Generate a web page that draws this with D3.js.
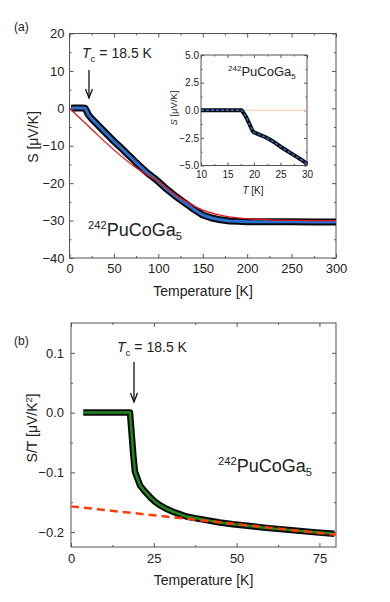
<!DOCTYPE html>
<html lang="en">
<head>
<meta charset="UTF-8">
<script src="https://d3js.org/d3.v7.min.js"></script>
<style>
  body { margin: 0; background: #fff; }
  svg text { font-family: "Liberation Sans", Arial, sans-serif; fill: #222; }
  .axis path { display: none; }
  .axis line { stroke: #555; }
</style>
<title>PuCoGa5 thermopower</title>
</head>
<body>
<div id="chart"></div>
<script>
// panel (a): S vs T
var tempA = [2, 5, 8, 11, 14, 17.5, 19, 21, 25, 30, 35, 40, 45, 50, 55, 60, 65, 70, 75, 80, 85, 90, 95, 100, 110, 120, 130, 140, 150, 160, 170, 180, 190, 200, 225, 250, 275, 300];
var seebeckA = [0, 0.1, 0.1, 0.1, 0.1, 0, -0.6, -1.6, -2.8, -4.0, -5.2, -6.4, -7.6, -8.8, -9.9, -11.0, -12.2, -13.3, -14.5, -15.6, -16.7, -17.7, -18.6, -19.6, -21.7, -23.6, -25.3, -27.0, -28.5, -29.3, -29.8, -30.1, -30.2, -30.3, -30.3, -30.3, -30.4, -30.4];
var fitTempA = [0, 25, 50, 75, 100, 125, 150, 175, 200, 225, 250, 275, 300];
var fitA = [0, -5.6, -11.1, -15.9, -19.6, -24.0, -27.2, -28.8, -29.5, -29.8, -29.95, -30.0, -30.0];
var xTicksA = [0, 50, 100, 150, 200, 250, 300];
var yTicksA = [-40, -30, -20, -10, 0, 10, 20];

// inset of (a)
var insetT = [10, 11, 12, 13, 14, 15, 16, 17, 17.7, 18.5, 19.2, 19.7, 20, 21, 22, 23, 24, 25, 26, 27, 28, 29, 30];
var insetS = [0, 0, 0, 0, 0, 0, 0, 0, 0, -0.6, -1.3, -1.85, -2.0, -2.2, -2.4, -2.65, -2.95, -3.3, -3.6, -3.9, -4.2, -4.5, -4.85];
var insetRefT = [17.7, 30];
var insetRefS = [0, 0];
var xTicksIn = [10, 15, 20, 25, 30];
var yTicksIn = [-5, -2.5, 0, 2.5, 5];

// panel (b): S/T vs T
var tempB = [3.7, 6, 8, 10, 12, 14, 16, 17.8, 18.3, 18.8, 19.3, 20.8, 22.3, 23.8, 25.3, 26.8, 28.8, 30.8, 32.8, 34.8, 37.8, 40.9, 44.9, 48.9, 53.9, 58.9, 64, 69, 74, 79.5];
var stB = [0, 0, 0, 0, 0, 0, 0, 0, -0.035, -0.07, -0.099, -0.1215, -0.132, -0.141, -0.149, -0.155, -0.161, -0.166, -0.170, -0.174, -0.177, -0.180, -0.184, -0.187, -0.190, -0.193, -0.1955, -0.198, -0.2005, -0.203];
var dashT = [0, 80];
var dashB = [-0.157, -0.2045];
var xTicksB = [0, 25, 50, 75];
var yTicksB = [-0.2, -0.1, 0, 0.1];

var svg = d3.select("#chart").append("svg")
    .attr("width", 390)
    .attr("height", 602);

// frame with inward ticks on all four sides
function drawAxes(x, y, o) {
    var g = svg.append("g");
    var xl = x.range()[0], xr = x.range()[1];
    var yb = y.range()[0], yt = y.range()[1];

    // minor ticks
    g.append("g").attr("class", "axis").attr("transform", "translate(0," + yb + ")")
        .call(d3.axisBottom(x).tickValues(o.xMinor).tickSize(-o.minor).tickFormat(""));
    g.append("g").attr("class", "axis").attr("transform", "translate(0," + yt + ")")
        .call(d3.axisTop(x).tickValues(o.xMinor).tickSize(-o.minor).tickFormat(""));
    g.append("g").attr("class", "axis").attr("transform", "translate(" + xl + ",0)")
        .call(d3.axisLeft(y).tickValues(o.yMinor).tickSize(-o.minor).tickFormat(""));
    g.append("g").attr("class", "axis").attr("transform", "translate(" + xr + ",0)")
        .call(d3.axisRight(y).tickValues(o.yMinor).tickSize(-o.minor).tickFormat(""));

    // major ticks + labels
    g.append("g").attr("class", "axis").attr("transform", "translate(0," + yb + ")")
        .call(d3.axisBottom(x).tickValues(o.xTicks).tickSize(-o.major).tickPadding(o.padX).tickFormat(o.xFmt))
        .selectAll("text").style("font-size", o.fs + "px");
    g.append("g").attr("class", "axis").attr("transform", "translate(0," + yt + ")")
        .call(d3.axisTop(x).tickValues(o.xTicks).tickSize(-o.major).tickFormat(""));
    g.append("g").attr("class", "axis").attr("transform", "translate(" + xl + ",0)")
        .call(d3.axisLeft(y).tickValues(o.yTicks).tickSize(-o.major).tickPadding(o.padY).tickFormat(o.yFmt))
        .selectAll("text").style("font-size", o.fs + "px");
    g.append("g").attr("class", "axis").attr("transform", "translate(" + xr + ",0)")
        .call(d3.axisRight(y).tickValues(o.yTicks).tickSize(-o.major).tickFormat(""));

    g.append("rect")
        .attr("x", xl).attr("y", yt)
        .attr("width", xr - xl).attr("height", yb - yt)
        .attr("fill", "none").attr("stroke", "#555").attr("stroke-width", 1);
    return g;
}

function arrow(x, y1, y2) {
    svg.append("line").attr("x1", x).attr("x2", x).attr("y1", y1).attr("y2", y2)
        .attr("stroke", "#111").attr("stroke-width", 1.3);
    svg.append("path")
        .attr("d", "M" + (x - 3.5) + "," + (y2 - 9) + "L" + x + "," + y2 + "L" + (x + 3.5) + "," + (y2 - 9))
        .attr("fill", "none").attr("stroke", "#111").attr("stroke-width", 1.3);
}

function tcLabel(x, y, fs) {
    var t = svg.append("text").attr("x", x).attr("y", y).style("font-size", fs + "px");
    t.append("tspan").style("font-style", "italic").text("T");
    t.append("tspan").attr("dy", 4).style("font-size", (fs * 0.7) + "px").text("c");
    t.append("tspan").attr("dy", -4).text(" = 18.5 K");
}

function compound(x, y, fs, sup) {
    var t = svg.append("text").attr("x", x).attr("y", y).style("font-size", fs + "px");
    t.append("tspan").attr("dy", -fs * 0.38).style("font-size", (fs * sup) + "px").text("242");
    t.append("tspan").attr("dy", fs * 0.38).text("PuCoGa");
    t.append("tspan").attr("dy", fs * 0.22).style("font-size", (fs * sup) + "px").text("5");
}

// ---------- panel (a) ----------
var xA = d3.scaleLinear().domain([0, 300]).range([69.5, 336]);
var yA = d3.scaleLinear().domain([-40, 20]).range([258, 33.5]);

drawAxes(xA, yA, {
    xTicks: xTicksA, yTicks: yTicksA,
    xMinor: d3.range(25, 300, 50), yMinor: d3.range(-35, 20, 10),
    major: 4, minor: 2, padX: 6, padY: 5, fs: 13,
    xFmt: d3.format("d"), yFmt: d3.format("d")
});

var lineA = d3.line().x(function(d) { return xA(d[0]); }).y(function(d) { return yA(d[1]); });
var ptsA = d3.zip(tempA, seebeckA);
svg.append("path").attr("d", lineA(ptsA)).attr("fill", "none")
    .attr("stroke", "#0a0a0a").attr("stroke-width", 7).attr("stroke-linejoin", "round");
svg.append("path").attr("d", lineA(ptsA)).attr("fill", "none")
    .attr("stroke", "#2b6fd0").attr("stroke-width", 3).attr("stroke-linejoin", "round");
svg.append("path").attr("d", lineA.curve(d3.curveMonotoneX)(d3.zip(fitTempA, fitA))).attr("fill", "none")
    .attr("stroke", "#e8141c").attr("stroke-width", 1.3);
lineA.curve(d3.curveLinear);

svg.append("text").attr("x", 14).attr("y", 31).style("font-size", "12px").text("(a)");
svg.append("text").attr("x", 203).attr("y", 296).attr("text-anchor", "middle")
    .style("font-size", "14px").text("Temperature [K]");
svg.append("text").attr("transform", "translate(38,137) rotate(-90)").attr("text-anchor", "middle")
    .style("font-size", "14px").text("S [\u03bcV/K]");
tcLabel(82, 58, 14);
arrow(89, 70, 98);
compound(88, 236, 18, 0.62);

// inset
var xIn = d3.scaleLinear().domain([10, 30]).range([201, 307]);
var yIn = d3.scaleLinear().domain([-5, 5]).range([165.5, 55]);
svg.append("rect").attr("x", 201).attr("y", 55).attr("width", 106).attr("height", 110.5).attr("fill", "#fff");
drawAxes(xIn, yIn, {
    xTicks: xTicksIn, yTicks: yTicksIn,
    xMinor: [12.5, 17.5, 22.5, 27.5], yMinor: [-3.75, -1.25, 1.25, 3.75],
    major: 3, minor: 1.5, padX: 5, padY: 2, fs: 10,
    xFmt: d3.format("d"), yFmt: d3.format(".1f")
});
var lineIn = d3.line().x(function(d) { return xIn(d[0]); }).y(function(d) { return yIn(d[1]); });
svg.append("path").attr("d", lineIn(d3.zip(insetRefT, insetRefS))).attr("fill", "none")
    .attr("stroke", "#ffc9a0").attr("stroke-width", 1.2);
svg.append("path").attr("d", lineIn(d3.zip(insetT, insetS))).attr("fill", "none")
    .attr("stroke", "#0a0a0a").attr("stroke-width", 4).attr("stroke-linejoin", "round");
svg.append("path").attr("d", lineIn(d3.zip(insetT, insetS))).attr("fill", "none")
    .attr("stroke", "#2b6fd0").attr("stroke-width", 1.5).attr("stroke-dasharray", "3,2");
compound(228, 76, 13, 0.62);
var tl = svg.append("text").attr("x", 253).attr("y", 194).attr("text-anchor", "middle").style("font-size", "10px");
tl.append("tspan").style("font-style", "italic").text("T");
tl.append("tspan").text(" [K]");
var sl = svg.append("text").attr("transform", "translate(177,108) rotate(-90)").attr("text-anchor", "middle").style("font-size", "9.5px");
sl.append("tspan").style("font-style", "italic").text("S");
sl.append("tspan").text(" [\u03bcV/K]");

// ---------- panel (b) ----------
var xB = d3.scaleLinear().domain([0, 80]).range([71, 336]);
var yB = d3.scaleLinear().domain([-0.225, 0.15]).range([547, 323]);

drawAxes(xB, yB, {
    xTicks: xTicksB, yTicks: yTicksB,
    xMinor: [12.5, 37.5, 62.5], yMinor: [-0.15, -0.05, 0.05],
    major: 4, minor: 2, padX: 7, padY: 7, fs: 13,
    xFmt: d3.format("d"), yFmt: d3.format(".1f")
});

var lineB = d3.line().x(function(d) { return xB(d[0]); }).y(function(d) { return yB(d[1]); });
var ptsB = d3.zip(tempB, stB);
svg.append("path").attr("d", lineB(ptsB)).attr("fill", "none")
    .attr("stroke", "#0a0a0a").attr("stroke-width", 6.5).attr("stroke-linejoin", "round");
svg.append("path").attr("d", lineB(ptsB)).attr("fill", "none")
    .attr("stroke", "#1e8a1e").attr("stroke-width", 2.5).attr("stroke-linejoin", "round");
svg.append("path").attr("d", lineB(d3.zip(dashT, dashB))).attr("fill", "none")
    .attr("stroke", "#ff3d0a").attr("stroke-width", 2.5).attr("stroke-dasharray", "8,5");

svg.append("text").attr("x", 14).attr("y", 345).style("font-size", "12px").text("(b)");
svg.append("text").attr("x", 203.5).attr("y", 585).attr("text-anchor", "middle")
    .style("font-size", "14px").text("Temperature [K]");
var bl = svg.append("text").attr("transform", "translate(37,428) rotate(-90)").attr("text-anchor", "middle")
    .style("font-size", "14px");
bl.append("tspan").text("S/T [\u03bcV/K");
bl.append("tspan").attr("dy", -5).style("font-size", "9px").text("2");
bl.append("tspan").attr("dy", 5).text("]");
tcLabel(117, 352, 14);
arrow(134, 362, 402);
compound(218, 472, 18, 0.62);
</script>
</body>
</html>
